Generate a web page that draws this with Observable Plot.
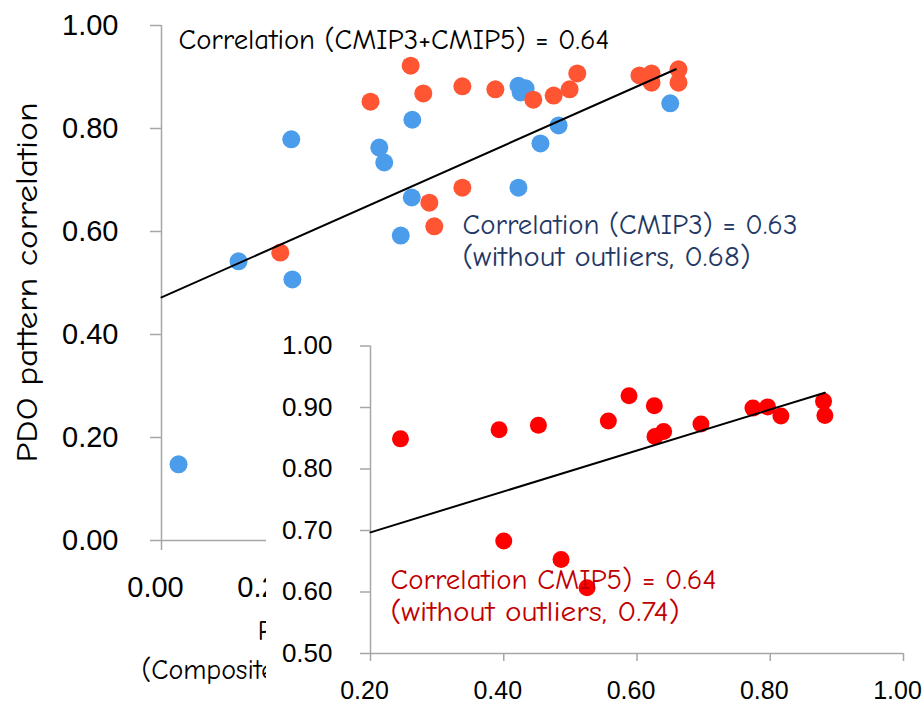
<!DOCTYPE html>
<html><head><meta charset="utf-8">
<script src="https://cdn.jsdelivr.net/npm/d3@7"></script>
<script src="https://cdn.jsdelivr.net/npm/@observablehq/plot@0.6"></script>
<style>
html,body{margin:0;padding:0;background:#fff;}
#wrap{position:relative;width:923px;height:704px;overflow:hidden;background:#fff;}
#main{position:absolute;left:0;top:0;}
#inset{position:absolute;left:266px;top:325px;width:657px;height:379px;background:#fff;}
</style></head><body>
<div id="wrap"><div id="main"></div><div id="inset"></div></div>
<script>
// ---- data ----
const cmip3X = [0.031, 0.140, 0.236, 0.238, 0.396, 0.405, 0.456, 0.455, 0.435, 0.649, 0.649, 0.653, 0.662, 0.689, 0.722, 0.925];
const cmip3Y = [0.148, 0.542, 0.779, 0.507, 0.763, 0.734, 0.817, 0.666, 0.592, 0.685, 0.883, 0.870, 0.878, 0.771, 0.806, 0.849];
const cmip5X = [0.216, 0.380, 0.453, 0.476, 0.487, 0.496, 0.547, 0.547, 0.607, 0.676, 0.713, 0.742, 0.756, 0.869, 0.891, 0.891, 0.940, 0.940];
const cmip5Y = [0.559, 0.852, 0.922, 0.868, 0.656, 0.610, 0.882, 0.685, 0.876, 0.856, 0.864, 0.876, 0.907, 0.903, 0.907, 0.889, 0.915, 0.889];
const insetX = [0.245, 0.393, 0.452, 0.557, 0.588, 0.626, 0.627, 0.640, 0.696, 0.774, 0.796, 0.816, 0.880, 0.882, 0.400, 0.486, 0.525];
const insetY = [0.849, 0.864, 0.871, 0.878, 0.919, 0.903, 0.853, 0.861, 0.873, 0.899, 0.901, 0.886, 0.910, 0.887, 0.683, 0.653, 0.607];
const trendAllX = [0, 0.935];
const trendAllY = [0.472, 0.915];
const trendInsetX = [0.2, 0.882];
const trendInsetY = [0.697, 0.924];
const mainXTicks = [0, 0.2, 0.4, 0.6, 0.8, 1.0];
const mainXTickLabels = [0, 0.2];          // the others are hidden under the inset
const mainYTicks = [0, 0.2, 0.4, 0.6, 0.8, 1.0];
const insetXTicks = [0.2, 0.4, 0.6, 0.8, 1.0];
const insetYTicks = [0.5, 0.6, 0.7, 0.8, 0.9, 1.0];
const textAll = "Correlation (CMIP3+CMIP5) = 0.64";
const textCmip3 = ["Correlation (CMIP3) = 0.63", "(without outliers, 0.68)"];
const textCmip5 = ["Correlation CMIP5) = 0.64", "(without outliers, 0.74)"];
const yTitle = "PDO pattern correlation";
const xTitle = ["PDO index", "(Composite analysis)"];

// ---- build ----
const pts = (xs, ys) => xs.map((x, i) => ({x, y: ys[i]}));
const fmt = d => d.toFixed(2);
const GRAY = "#a6a6a6";
const BLUE = "#4b9deb";
const ORANGE = "#ff5533";
const RED = "#ff0000";
const COMIC = '"Comic Sans MS","Comic Neue","DejaVu Sans",sans-serif';
const TICKF = '"Liberation Sans",Arial,sans-serif';
const ann = (txt, dx, dy, fill, size = 28, extra = {}) =>
  Plot.text([txt], {frameAnchor: "top-left", dx, dy, text: d => d, textAnchor: "start", lineAnchor: "middle", fontSize: size, fontFamily: COMIC, fill, ...extra});

const main = Plot.plot({
  width: 923, height: 704,
  marginLeft: 161, marginRight: 212, marginTop: 25, marginBottom: 164,
  x: {domain: [0, 1]},
  y: {domain: [0, 1]},
  style: {fontFamily: TICKF, background: "white", overflow: "visible", color: "black"},
  marks: [
    Plot.axisY(mainYTicks, {anchor: "left", tickSize: 11, tickPadding: 32, tickFormat: fmt, fontSize: 29, stroke: GRAY, strokeWidth: 1.5, fill: "black", label: null}),
    Plot.axisX(mainXTicks, {anchor: "bottom", tickSize: 10, tickFormat: fmt, stroke: GRAY, strokeWidth: 1.5, fill: "none", label: null}),
    Plot.axisX(mainXTickLabels, {anchor: "bottom", tickSize: 0, tickPadding: 36, dx: -6, tickFormat: fmt, fontSize: 29, fill: "black", stroke: "none", label: null}),
    Plot.ruleX([0], {stroke: GRAY, strokeWidth: 1.5}),
    Plot.ruleY([0], {stroke: GRAY, strokeWidth: 1.5}),
    Plot.dot(pts(cmip3X, cmip3Y), {x: "x", y: "y", r: 9, fill: BLUE}),
    Plot.dot(pts(cmip5X, cmip5Y), {x: "x", y: "y", r: 9, fill: ORANGE}),
    Plot.line(pts(trendAllX, trendAllY), {x: "x", y: "y", stroke: "black", strokeWidth: 2}),
    ann(textAll, 17, 15, "black"),
    ann(textCmip3[0], 301, 200, "#1f3864"),
    ann(textCmip3[1], 301, 232, "#1f3864"),
    Plot.text([yTitle], {frameAnchor: "top-left", dx: -134, dy: 257, rotate: -90, text: d => d, textAnchor: "middle", lineAnchor: "middle", fontSize: 30, fontFamily: COMIC, fill: "black"}),
    ann(xTitle[0], 96, 605, "black", 29),
    ann(xTitle[1], -20, 645, "black", 28)
  ]
});
document.getElementById("main").appendChild(main);

const inset = Plot.plot({
  width: 657, height: 379,
  marginLeft: 104, marginRight: 20, marginTop: 20.5, marginBottom: 51,
  x: {domain: [0.2, 1]},
  y: {domain: [0.5, 1]},
  style: {fontFamily: TICKF, background: "white", overflow: "visible", color: "black"},
  marks: [
    Plot.axisY(insetYTicks, {anchor: "left", tickSize: 10, tickPadding: 28, tickFormat: fmt, fontSize: 26, stroke: GRAY, strokeWidth: 1.5, fill: "black", label: null}),
    Plot.axisX(insetXTicks, {anchor: "bottom", tickSize: 8, tickFormat: fmt, stroke: GRAY, strokeWidth: 1.5, fill: "none", label: null}),
    Plot.axisX(insetXTicks, {anchor: "bottom", tickSize: 0, tickPadding: 27.5, dx: -6, tickFormat: fmt, fontSize: 25, fill: "black", stroke: "none", label: null}),
    Plot.ruleX([0.2], {stroke: GRAY, strokeWidth: 1.5}),
    Plot.ruleY([0.5], {stroke: GRAY, strokeWidth: 1.5}),
    Plot.dot(pts(insetX, insetY), {x: "x", y: "y", r: 8.5, fill: RED}),
    Plot.line(pts(trendInsetX, trendInsetY), {x: "x", y: "y", stroke: "black", strokeWidth: 2}),
    ann(textCmip5[0], 20, 234.5, "#c00000"),
    ann(textCmip5[1], 20, 266.5, "#c00000")
  ]
});
document.getElementById("inset").appendChild(inset);

// match the annotation widths seen in the reference
const widths = new Map([
  [textAll, 431], [textCmip3[0], 335], [textCmip3[1], 288],
  [textCmip5[0], 326], [textCmip5[1], 289], [yTitle, 360]
]);
for (const svg of [main, inset]) {
  svg.querySelectorAll("text").forEach(t => {
    const w = widths.get(t.textContent);
    if (w) { t.setAttribute("textLength", w); t.setAttribute("lengthAdjust", "spacingAndGlyphs"); }
  });
}
</script>
</body></html>
